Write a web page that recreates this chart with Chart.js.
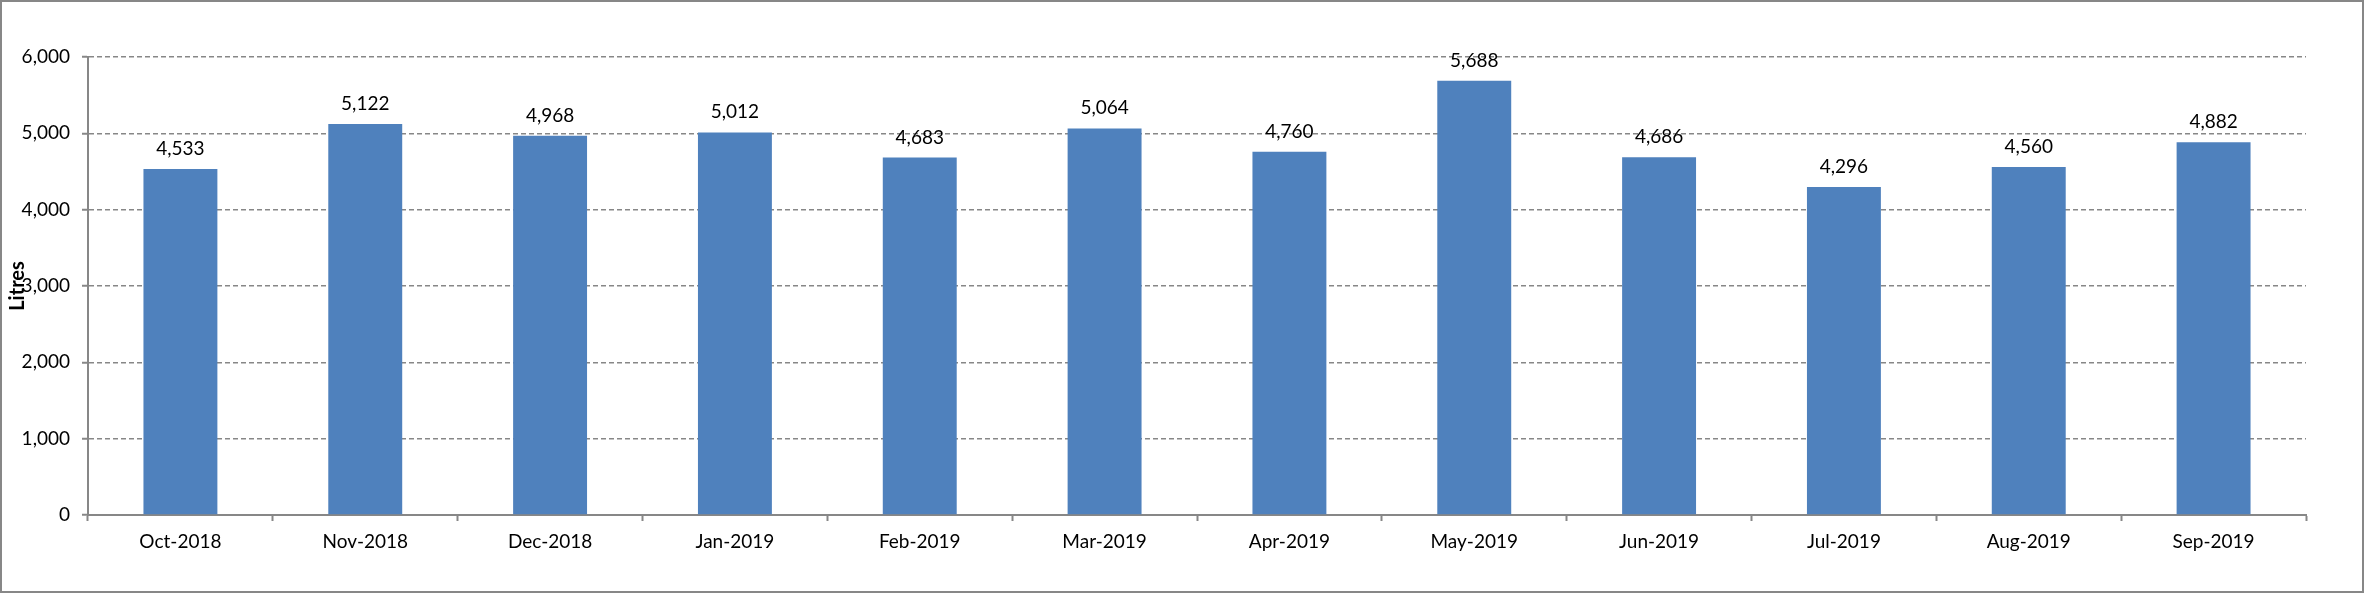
<!DOCTYPE html>
<html>
<head>
<meta charset="utf-8">
<script src="https://cdn.jsdelivr.net/npm/chart.js@4.4.1/dist/chart.umd.min.js"></script>
<style>
  html, body { margin: 0; padding: 0; background: #fff; }
  #wrap { position: relative; width: 2364px; height: 593px; }
  #c { position: absolute; left: 0; top: 0; }
  #frame { position: absolute; left: 0; top: 0; width: 2364px; height: 593px; box-sizing: border-box; border: 2px solid #878787; pointer-events: none; }
</style>
</head>
<body>
<div id="wrap">
  <canvas id="c" width="2364" height="593"></canvas>
  <div id="frame"></div>
</div>
<script>
const categories = ["Oct-2018","Nov-2018","Dec-2018","Jan-2019","Feb-2019","Mar-2019","Apr-2019","May-2019","Jun-2019","Jul-2019","Aug-2019","Sep-2019"];
const litres = [4533, 5122, 4968, 5012, 4683, 5064, 4760, 5688, 4686, 4296, 4560, 4882];
const yTicks = [0, 1000, 2000, 3000, 4000, 5000, 6000];
const yTitle = "Litres";

const fmt = v => v.toLocaleString('en-US');
const FONT = "Lato";
const FS = 19;

const valueLabels = {
  id: 'valueLabels',
  afterDatasetsDraw(chart) {
    const ctx = chart.ctx;
    const meta = chart.getDatasetMeta(0);
    ctx.save();
    ctx.font = FS + "px " + FONT;
    ctx.fillStyle = "#000";
    ctx.textAlign = "center";
    ctx.textBaseline = "alphabetic";
    meta.data.forEach((bar, i) => {
      ctx.fillText(fmt(litres[i]), bar.x, bar.y - 14);
    });
    ctx.restore();
  }
};

new Chart(document.getElementById('c'), {
  type: 'bar',
  data: {
    labels: categories,
    datasets: [{
      data: litres,
      backgroundColor: '#4F81BD',
      borderWidth: 0,
      categoryPercentage: 1.0,
      barPercentage: 0.4
    }]
  },
  options: {
    responsive: false,
    animation: false,
    events: [],
    layout: { padding: { left: 0, right: 58, top: 57, bottom: 0 } },
    plugins: { legend: { display: false }, tooltip: { enabled: false } },
    scales: {
      x: {
        offset: true,
        afterFit(s) { s.height = 78; },
        grid: { display: true, drawOnChartArea: false, drawTicks: true, tickLength: 6, tickColor: '#878787', tickWidth: 2, offset: true },
        border: { display: true, color: '#878787', width: 2 },
        ticks: { color: '#000', font: { family: FONT, size: FS }, padding: 9, maxRotation: 0, autoSkip: false }
      },
      y: {
        min: 0, max: 6000,
        afterFit(s) { s.width = 88; },
        afterBuildTicks(s) { s.ticks = yTicks.map(v => ({ value: v })); },
        grid: { display: true, color: '#878787', lineWidth: 1.5, drawTicks: true, tickLength: 6, tickColor: '#878787', tickWidth: 2, tickBorderDash: [] },
        border: { display: true, color: '#878787', width: 2, dash: [5, 3] },
        ticks: { color: '#000', font: { family: FONT, size: FS }, padding: 12, callback: v => fmt(v) },
        title: { display: true, text: yTitle, color: '#000', font: { family: FONT, size: 20, weight: 'bold' }, padding: { top: 6, bottom: 4 } }
      }
    }
  },
  plugins: [valueLabels]
});
</script>
</body>
</html>
